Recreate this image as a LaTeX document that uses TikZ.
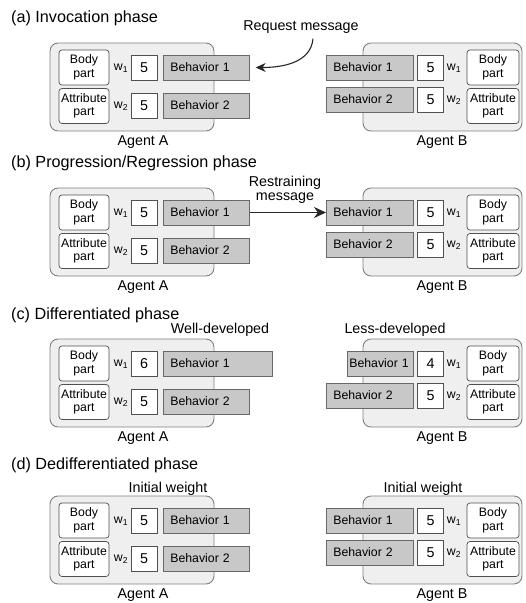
\documentclass[tikz,border=0pt]{standalone}
\usepackage{fontspec}
\setmainfont{Liberation Sans}
\usetikzlibrary{arrows.meta}
\definecolor{agentfill}{HTML}{EFEFEF}
\definecolor{agentline}{HTML}{808080}
\definecolor{behavfill}{HTML}{C8C8C8}
\definecolor{behavline}{HTML}{686868}
\definecolor{partline}{HTML}{505050}
\newcommand{\boxfont}{\fontsize{12.3}{13.5}\selectfont}
\newcommand{\namefont}{\fontsize{14.3}{14.5}\selectfont}
\newcommand{\titlefont}{\fontsize{16.2}{17}\selectfont}
\tikzstyle{agent} = [draw=agentline, fill=agentfill, line width=0.9pt, rounded corners=8pt, minimum height=88pt, inner sep=0pt]
\tikzstyle{part} = [draw=partline, fill=white, line width=0.7pt, rounded corners=3pt, minimum width=50pt, minimum height=35pt, inner sep=1pt, align=center, font=\boxfont]
\tikzstyle{wbox} = [draw=partline, fill=white, line width=0.7pt, minimum width=26pt, minimum height=25pt, inner sep=0pt, font=\namefont]
\tikzstyle{wlabel} = [inner sep=0pt, font=\boxfont]
\tikzstyle{behav} = [draw=behavline, fill=behavfill, line width=0.7pt, minimum height=25pt, inner ysep=0pt, align=left, font=\boxfont]
\tikzstyle{agentname} = [inner sep=0pt, font=\namefont]
\tikzstyle{phase} = [anchor=west, inner sep=0pt, font=\titlefont]
\tikzstyle{note} = [inner sep=0pt, align=center, font=\namefont]
\tikzstyle{msg} = [-{Stealth[length=10pt,width=9pt]}, line width=1.1pt, draw=black!85]

% agent with the parts on the left: name, top, weight w1, left x and width of behavior 1
\newcommand{\agentA}[5]{%
  \pgfmathsetmacro{\bpad}{#5>80 ? 7 : 2}%
  \pgfmathsetmacro{\btw}{#5-2*\bpad}%
  \node[agent, minimum width=164pt] (#1box) at (132,#2+44) {};
  \node[part] (#1body) at (84,#2+24.5) {Body\\part};
  \node[part] (#1attr) at (84,#2+63) {Attribute\\part};
  \node[wlabel] (#1wa) at (121,#2+25) {w\textsubscript{1}};
  \node[wlabel] (#1wb) at (121,#2+63) {w\textsubscript{2}};
  \node[wbox] (#1va) at (144,#2+24.5) {#3};
  \node[wbox] (#1vb) at (144,#2+62.5) {5};
  \node[behav, anchor=west, inner xsep=\bpad pt, text width=\btw pt] (#1ba) at (#4,#2+24.5) {Behavior 1};
  \node[behav, anchor=west, inner xsep=7pt, text width=72pt] (#1bb) at (163,#2+62.5) {Behavior 2};
  \node[agentname] (#1name) at (143,#2+99) {Agent A};
}
% agent with the parts on the right
\newcommand{\agentB}[5]{%
  \pgfmathsetmacro{\bpad}{#5>80 ? 7 : 2}%
  \pgfmathsetmacro{\btw}{#5-2*\bpad}%
  \node[agent, minimum width=159pt] (#1box) at (442.5,#2+44) {};
  \node[behav, anchor=west, inner xsep=\bpad pt, text width=\btw pt] (#1ba) at (#4,#2+24.5) {Behavior 1};
  \node[behav, anchor=west, inner xsep=7pt, text width=73pt] (#1bb) at (326,#2+56.5) {Behavior 2};
  \node[wbox] (#1va) at (430.5,#2+24.5) {#3};
  \node[wbox] (#1vb) at (430.5,#2+56.5) {5};
  \node[wlabel] (#1wa) at (454,#2+25) {w\textsubscript{1}};
  \node[wlabel] (#1wb) at (454,#2+57) {w\textsubscript{2}};
  \node[part, minimum width=52pt] (#1body) at (493,#2+24.5) {Body\\part};
  \node[part, minimum width=52pt] (#1attr) at (493,#2+63) {Attribute\\part};
  \node[agentname] (#1name) at (442,#2+99) {Agent B};
}

\begin{document}
\begin{tikzpicture}[x=1pt,y=-1pt]
\useasboundingbox (0,0) rectangle (526,603);

% (a)
\node[phase] (pa) at (11,18) {(a) Invocation phase};
\agentA{aA}{43}{5}{163}{86}
\agentB{aB}{43}{5}{326}{87}
\node[note] (req) at (301,27) {Request message};
\draw[msg] ([xshift=12pt,yshift=-5pt]req.south) to[out=-95,in=0] ([xshift=6pt]aAba.east);

% (b)
\node[phase] (pb) at (11,163) {(b) Progression/Regression phase};
\agentA{bA}{188}{5}{163}{86}
\agentB{bB}{188}{5}{326}{87}
\node[note] (restr) at (285,190) {Restraining\\message};
\draw[msg, line width=1.4pt, -{Stealth[length=12pt,width=11pt]}] (bAba.east) -- (bBba.west);

% (c)
\node[phase] (pc) at (11,315) {(c) Differentiated phase};
\node[note] (well) at (220,330) {Well-developed};
\node[note] (less) at (395,330) {Less-developed};
\agentA{cA}{339}{6}{163}{109}
\agentB{cB}{339}{4}{347}{66}

% (d)
\node[phase] (pd) at (11,465) {(d) Dedifferentiated phase};
\node[note] (inita) at (168,489) {Initial weight};
\node[note] (initb) at (423,489) {Initial weight};
\agentA{dA}{496}{5}{163}{86}
\agentB{dB}{496}{5}{326}{87}
\end{tikzpicture}
\end{document}
